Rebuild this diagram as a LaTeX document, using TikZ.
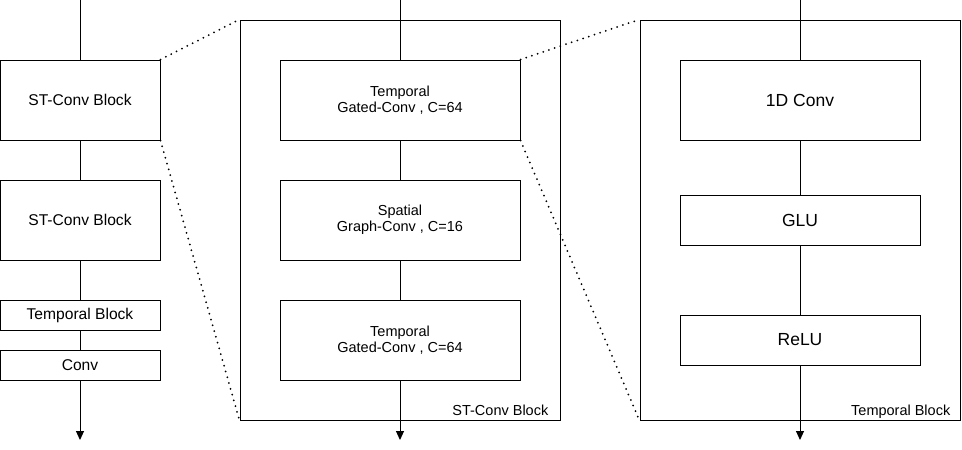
\documentclass[tikz,border=0pt]{standalone}
\usepackage{fontspec}
\setmainfont{Liberation Sans}
\usetikzlibrary{positioning,calc,arrows.meta}

\tikzset{
    blk/.style={draw, fill=white, line width=1pt, inner sep=0pt, align=center},
    frm/.style={draw, line width=1pt, minimum width=320pt, minimum height=400pt},
    lnk/.style={line width=1pt},
    flow/.style={line width=1pt, -{Triangle[width=8pt,length=9pt]}},
    zoomln/.style={line width=2pt, line cap=round, dash pattern=on 0pt off 6pt},
    lbl/.style={inner sep=0pt, font=\fontsize{14.5}{16}\selectfont},
}

\begin{document}
\begin{tikzpicture}[x=1pt, y=-1pt]
    \useasboundingbox (0,0) rectangle (962,450);

    % frames
    \node[frm] (stframe) at (400,220) {};
    \node[frm] (tbframe) at (800,220) {};
    \node[lbl, anchor=base east] (stlbl) at ([xshift=-12pt,yshift=5pt]stframe.south east) {ST-Conv Block};
    \node[lbl, anchor=base east] (tblbl) at ([xshift=-10pt,yshift=5pt]tbframe.south east) {Temporal Block};

    % free ends
    \coordinate (lin) at (80,0);
    \coordinate (lout) at (80,440);
    \coordinate (min) at (400,0);
    \coordinate (mout) at (400,440);
    \coordinate (rin) at (800,0);
    \coordinate (rout) at (800,440);

    % model
    \begin{scope}[every node/.append style={blk, minimum width=160pt, font=\fontsize{15.6}{18}\selectfont}]
    \node[minimum height=80pt] (stc1) at (80,100) {ST-Conv Block};
    \node[minimum height=80pt] (stc2) at (80,220) {ST-Conv Block};
    \node[minimum height=30pt] (tblk) at (80,315) {Temporal Block};
    \node[minimum height=30pt] (conv) at (80,365) {Conv};
    \end{scope}

    % ST-Conv block
    \begin{scope}[every node/.append style={blk, minimum width=240pt, minimum height=80pt, font=\fontsize{14.5}{16}\selectfont}]
    \node (tg1) at (400,100) {Temporal\\Gated-Conv , C=64};
    \node (sg) at (400,220) {Spatial\\Graph-Conv , C=16};
    \node (tg2) at (400,340) {Temporal\\Gated-Conv , C=64};
    \end{scope}

    % temporal block
    \begin{scope}[every node/.append style={blk, minimum width=240pt, font=\fontsize{17.5}{20}\selectfont}]
    \node[minimum height=80pt] (cnv) at (800,100) {1D Conv};
    \node[minimum height=50pt] (glu) at (800,220) {GLU};
    \node[minimum height=50pt] (relu) at (800,340) {ReLU};
    \end{scope}

    % links
    \draw[lnk] (lin) -- (stc1);
    \draw[lnk] (stc1) -- (stc2);
    \draw[lnk] (stc2) -- (tblk);
    \draw[lnk] (tblk) -- (conv);
    \draw[flow] (conv) -- (lout);

    \draw[lnk] (min) -- (tg1);
    \draw[lnk] (tg1) -- (sg);
    \draw[lnk] (sg) -- (tg2);
    \draw[flow] (tg2) -- (mout);

    \draw[lnk] (rin) -- (cnv);
    \draw[lnk] (cnv) -- (glu);
    \draw[lnk] (glu) -- (relu);
    \draw[flow] (relu) -- (rout);

    % zoom lines
    \draw[zoomln] (stc1.north east) -- (stframe.north west);
    \draw[zoomln] (stc1.south east) -- (stframe.south west);
    \draw[zoomln] (tg1.north east) -- (tbframe.north west);
    \draw[zoomln] (tg1.south east) -- (tbframe.south west);
\end{tikzpicture}
\end{document}
